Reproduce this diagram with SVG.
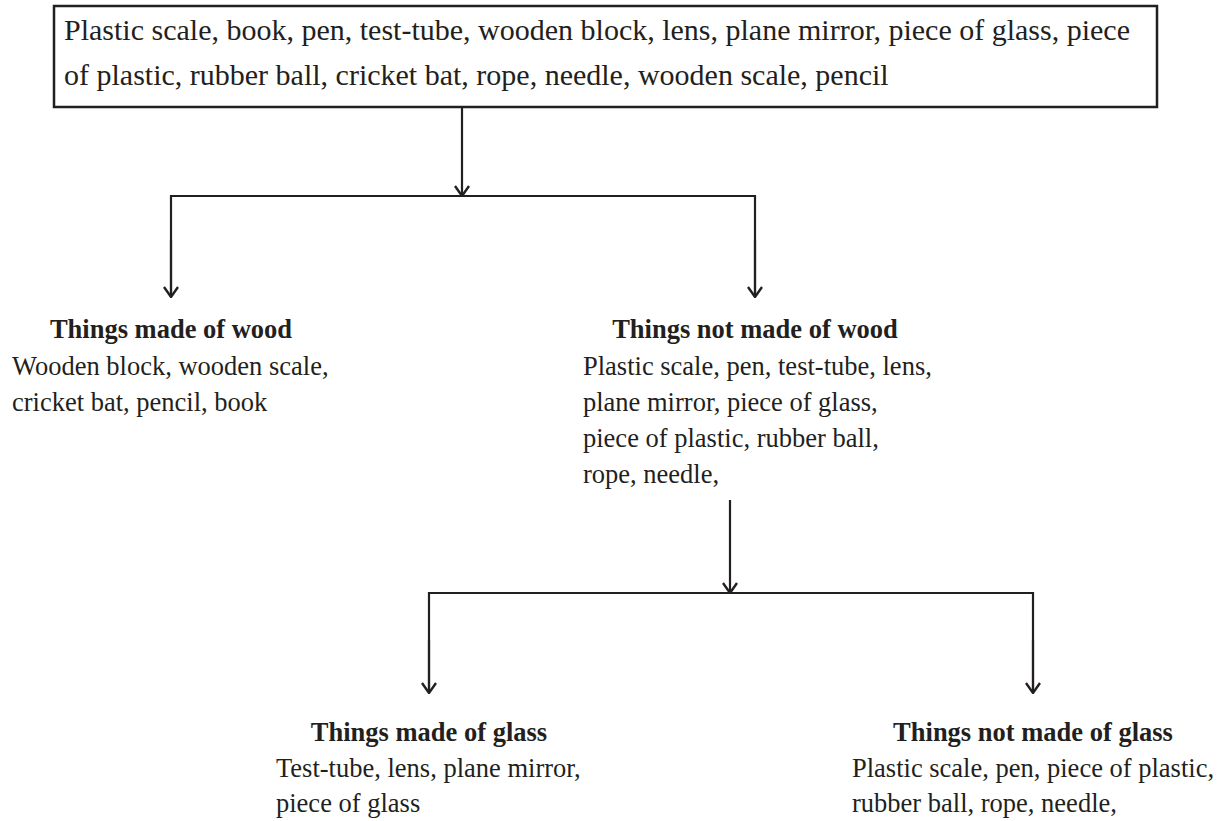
<svg xmlns="http://www.w3.org/2000/svg" width="1223" height="821" viewBox="0 0 1223 821">
<defs>
<style>
.t{font-family:"Liberation Serif","Times New Roman",serif;fill:#231f20}
.top{font-size:30px}
.body{font-size:26.5px}
.h{font-size:26.5px;font-weight:bold;text-anchor:middle}
.ln{stroke:#231f20;stroke-width:2.2;fill:none}
</style>
<marker id="ah" viewBox="0 0 12 16" refX="11" refY="8" markerWidth="12" markerHeight="16" markerUnits="userSpaceOnUse" orient="auto">
<path d="M1,1 L11,8 L1,15" fill="none" stroke="#231f20" stroke-width="2.4"/>
</marker>
</defs>
<rect width="1223" height="821" fill="#fff"/>
<g id="connectors">
<line class="ln" x1="462" y1="107" x2="462" y2="196" marker-end="url(#ah)"/>
<polyline class="ln" points="171,296 171,196 755,196 755,296"/>
<line class="ln" x1="171" y1="240" x2="171" y2="297" marker-end="url(#ah)"/>
<line class="ln" x1="755" y1="240" x2="755" y2="297" marker-end="url(#ah)"/>
<line class="ln" x1="730" y1="500" x2="730" y2="593" marker-end="url(#ah)"/>
<polyline class="ln" points="429,692 429,593 1033,593 1033,692"/>
<line class="ln" x1="429" y1="640" x2="429" y2="693" marker-end="url(#ah)"/>
<line class="ln" x1="1033" y1="640" x2="1033" y2="693" marker-end="url(#ah)"/>
</g>
<g id="root">
<rect x="54" y="6" width="1103" height="101" fill="none" stroke="#231f20" stroke-width="2.5"/>
<text class="t top" x="64" y="40">Plastic scale, book, pen, test-tube, wooden block, lens, plane mirror, piece of glass, piece</text>
<text class="t top" x="64" y="85">of plastic, rubber ball, cricket bat, rope, needle, wooden scale, pencil</text>
</g>
<g id="wood">
<text class="t h" x="171" y="338">Things made of wood</text>
<text class="t body" x="12" y="375">Wooden block, wooden scale,</text>
<text class="t body" x="12" y="411">cricket bat, pencil, book</text>
</g>
<g id="notwood">
<text class="t h" x="755" y="338">Things not made of wood</text>
<text class="t body" x="583" y="375">Plastic scale, pen, test-tube, lens,</text>
<text class="t body" x="583" y="411">plane mirror, piece of glass,</text>
<text class="t body" x="583" y="447">piece of plastic, rubber ball,</text>
<text class="t body" x="583" y="483">rope, needle,</text>
</g>
<g id="glass">
<text class="t h" x="429" y="741">Things made of glass</text>
<text class="t body" x="276" y="777">Test-tube, lens, plane mirror,</text>
<text class="t body" x="276" y="812">piece of glass</text>
</g>
<g id="notglass">
<text class="t h" x="1033" y="741">Things not made of glass</text>
<text class="t body" x="852" y="777">Plastic scale, pen, piece of plastic,</text>
<text class="t body" x="852" y="812">rubber ball, rope, needle,</text>
</g>
</svg>
